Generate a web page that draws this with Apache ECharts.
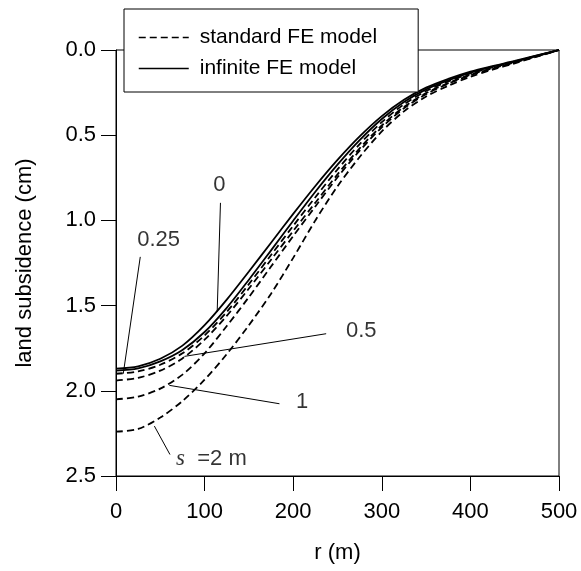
<!DOCTYPE html>
<html>
<head>
<meta charset="utf-8">
<script src="https://cdn.jsdelivr.net/npm/echarts@6/dist/echarts.min.js"></script>
<style>
  html, body { margin: 0; padding: 0; background: #fff; }
  #chart { width: 581px; height: 571px; }
</style>
</head>
<body>
<div id="chart"></div>
<script>
// radial distance (m)
var rVals = [0, 25, 50, 75, 100, 125, 150, 175, 200, 225, 250, 275, 300, 325, 350, 375, 400, 425, 450, 475, 500];

// infinite FE model (solid)
var infiniteS0 = [1.870, 1.856, 1.812, 1.735, 1.615, 1.465, 1.300, 1.131, 0.962, 0.798, 0.645, 0.507, 0.388, 0.292, 0.221, 0.170, 0.127, 0.094, 0.064, 0.032, 0];
var infiniteB  = [1.882, 1.868, 1.827, 1.760, 1.655, 1.513, 1.348, 1.176, 1.002, 0.832, 0.673, 0.529, 0.405, 0.305, 0.231, 0.178, 0.133, 0.098, 0.067, 0.033, 0];

// standard FE model (dashed), s = 0.25, 0.5, 1, 2 m
var std025 = [1.900, 1.886, 1.847, 1.780, 1.675, 1.537, 1.374, 1.203, 1.032, 0.864, 0.701, 0.552, 0.423, 0.319, 0.241, 0.185, 0.138, 0.102, 0.069, 0.035, 0];
var std05  = [1.940, 1.924, 1.882, 1.810, 1.700, 1.560, 1.400, 1.231, 1.062, 0.896, 0.730, 0.577, 0.443, 0.334, 0.253, 0.194, 0.145, 0.107, 0.073, 0.036, 0];
var std1   = [2.050, 2.034, 1.987, 1.905, 1.780, 1.620, 1.450, 1.271, 1.092, 0.918, 0.747, 0.591, 0.454, 0.342, 0.259, 0.198, 0.148, 0.109, 0.074, 0.037, 0];
var std2   = [2.240, 2.224, 2.157, 2.060, 1.935, 1.785, 1.615, 1.430, 1.220, 1.000, 0.800, 0.628, 0.478, 0.360, 0.273, 0.210, 0.157, 0.115, 0.078, 0.039, 0];

// curve labels and their leader lines [r, subsidence]
var labelText = ['0', '0.25', '0.5', '1', '{s|s}  =2 m'];
var labelPos = [[116.8, 0.79], [48.1, 1.116], [276.8, 1.651], [210.1, 2.066], [67.8, 2.398]];
var leaderFrom = [[117.9, 0.897], [27.4, 1.214], [237.2, 1.665], [184.5, 2.076], [60.9, 2.374]];
var leaderTo = [[114.2, 1.537], [8.2, 1.900], [77.2, 1.798], [60.2, 1.968], [43.3, 2.207]];

var FONT = 'Liberation Sans, Arial, sans-serif';

function pairs(ys) {
  return rVals.map(function (r, i) { return [r, ys[i]]; });
}

function curve(name, ys, dashed) {
  return {
    name: name,
    type: 'line',
    data: pairs(ys),
    smooth: 0.3,
    symbol: 'none',
    silent: true,
    color: '#000',
    lineStyle: {
      color: '#000',
      width: 1.8,
      type: dashed ? [7, 4] : 'solid'
    },
    z: 3
  };
}

var chart = echarts.init(document.getElementById('chart'));

var leaders = leaderFrom.map(function (p, i) {
  return [{ coord: p }, { coord: leaderTo[i] }];
});

var option = {
  animation: false,
  backgroundColor: '#fff',
  textStyle: { fontFamily: FONT, color: '#000' },
  grid: {
    left: 116,
    right: 22,
    top: 50,
    bottom: 95,
    show: true,
    borderColor: '#000',
    borderWidth: 1,
    backgroundColor: 'transparent'
  },
  legend: {
    left: 124,
    top: 9,
    orient: 'vertical',
    data: ['standard FE model', 'infinite FE model'],
    itemWidth: 50,
    itemHeight: 20,
    itemGap: 10,
    padding: [18, 41, 13, 14],
    backgroundColor: '#fff',
    borderColor: '#000',
    borderWidth: 1,
    selectedMode: false,
    itemStyle: { opacity: 0 },
    lineStyle: { width: 1.5 },
    textStyle: { fontFamily: FONT, fontSize: 21, color: '#000', padding: [0, 0, 0, 6] },
    z: 10
  },
  xAxis: {
    type: 'value',
    min: 0,
    max: 500,
    interval: 100,
    name: 'r (m)',
    nameLocation: 'middle',
    nameGap: 66,
    nameTextStyle: { fontFamily: FONT, fontSize: 22, color: '#000' },
    axisLine: { onZero: false, lineStyle: { color: '#000', width: 1 } },
    axisTick: { inside: false, length: 15, lineStyle: { color: '#000', width: 1 } },
    axisLabel: { fontFamily: FONT, fontSize: 22, color: '#000', margin: 25 },
    splitLine: { show: false }
  },
  yAxis: {
    type: 'value',
    inverse: true,
    min: 0,
    max: 2.5,
    interval: 0.5,
    name: 'land subsidence (cm)',
    nameLocation: 'middle',
    nameGap: 80,
    nameTextStyle: { fontFamily: FONT, fontSize: 22, color: '#000' },
    axisLine: { onZero: false, lineStyle: { color: '#000', width: 1 } },
    axisTick: { inside: false, length: 15, lineStyle: { color: '#000', width: 1 } },
    axisLabel: {
      fontFamily: FONT, fontSize: 22, color: '#000', margin: 20,
      formatter: function (v) { return v.toFixed(1); }
    },
    splitLine: { show: false }
  },
  series: [
    curve('standard FE model', std025, true),
    curve('standard FE model', std05, true),
    curve('standard FE model', std1, true),
    curve('standard FE model', std2, true),
    curve('infinite FE model', infiniteS0, false),
    curve('infinite FE model', infiniteB, false),
    {
      name: 'leaders',
      type: 'line',
      data: [],
      silent: true,
      markLine: {
        silent: true,
        symbol: ['none', 'none'],
        label: { show: false },
        lineStyle: { color: '#000', width: 1, type: 'solid' },
        data: leaders
      }
    },
    {
      name: 'labels',
      type: 'scatter',
      symbolSize: 0,
      silent: true,
      data: labelPos.map(function (p, i) {
        return {
          value: p,
          label: {
            show: true,
            position: 'inside',
            align: i === 4 ? 'left' : 'center',
            formatter: labelText[i]
          }
        };
      }),
      label: {
        fontFamily: FONT,
        fontSize: 22,
        color: '#000',
        rich: {
          s: { fontFamily: 'Liberation Serif, serif', fontStyle: 'italic', fontSize: 23, color: '#000' }
        }
      }
    }
  ]
};

chart.setOption(option);
</script>
</body>
</html>
